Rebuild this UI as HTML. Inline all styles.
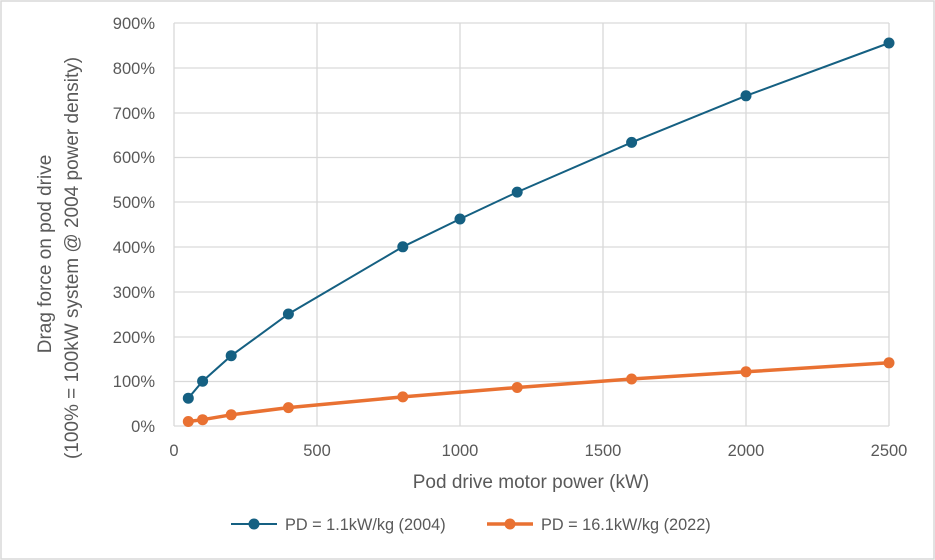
<!DOCTYPE html>
<html><head><meta charset="utf-8"><style>
body{margin:0;background:#fff}
svg{display:block;font-family:"Liberation Sans",sans-serif;fill:#595959}
</style></head><body>
<svg width="935" height="560" viewBox="0 0 935 560">
<rect x="1" y="1" width="933" height="558" fill="#fff" stroke="#d9d9d9" stroke-width="1.5"/>
<g stroke="#d9d9d9" stroke-width="1.3">
<line x1="174" y1="23" x2="889" y2="23"/><line x1="174" y1="68" x2="889" y2="68"/><line x1="174" y1="113" x2="889" y2="113"/><line x1="174" y1="157.5" x2="889" y2="157.5"/><line x1="174" y1="202" x2="889" y2="202"/><line x1="174" y1="247" x2="889" y2="247"/><line x1="174" y1="292" x2="889" y2="292"/><line x1="174" y1="337" x2="889" y2="337"/><line x1="174" y1="381.5" x2="889" y2="381.5"/><line x1="174" y1="426" x2="889" y2="426"/>
<line x1="174" y1="23" x2="174" y2="426"/><line x1="317" y1="23" x2="317" y2="426"/><line x1="460" y1="23" x2="460" y2="426"/><line x1="603" y1="23" x2="603" y2="426"/><line x1="746" y1="23" x2="746" y2="426"/><line x1="889" y1="23" x2="889" y2="426"/>
</g>
<g font-size="16.5" text-anchor="end">
<text x="155" y="29">900%</text><text x="155" y="74">800%</text><text x="155" y="119">700%</text><text x="155" y="163">600%</text><text x="155" y="208">500%</text><text x="155" y="253">400%</text><text x="155" y="298">300%</text><text x="155" y="343">200%</text><text x="155" y="387">100%</text><text x="155" y="432">0%</text>
</g>
<g font-size="16.5" text-anchor="middle">
<text x="174" y="456">0</text><text x="317" y="456">500</text><text x="460" y="456">1000</text><text x="603" y="456">1500</text><text x="746" y="456">2000</text><text x="889" y="456">2500</text>
<text x="531" y="488" font-size="19">Pod drive motor power (kW)</text>
<text transform="translate(51,254) rotate(-90)" font-size="19">Drag force on pod drive</text>
<text transform="translate(78,258) rotate(-90)" font-size="19">(100% = 100kW system @ 2004 power density)</text>
</g>
<polyline fill="none" stroke="#156082" stroke-width="2" points="188.3,398.2 202.6,381.2 231.2,355.7 288.4,314 402.8,246.8 460,219 517.2,192.1 631.6,142.4 746,95.8 889,43"/>
<g fill="#156082"><circle cx="188.3" cy="398.2" r="5.5"/><circle cx="202.6" cy="381.2" r="5.5"/><circle cx="231.2" cy="355.7" r="5.5"/><circle cx="288.4" cy="314" r="5.5"/><circle cx="402.8" cy="246.8" r="5.5"/><circle cx="460" cy="219" r="5.5"/><circle cx="517.2" cy="192.1" r="5.5"/><circle cx="631.6" cy="142.4" r="5.5"/><circle cx="746" cy="95.8" r="5.5"/><circle cx="889" cy="43" r="5.5"/></g>
<polyline fill="none" stroke="#e97132" stroke-width="3.5" points="188.3,421.5 202.6,419.7 231.2,414.8 288.4,407.6 402.8,396.9 517.2,387.5 631.6,379 746,371.8 889,362.8"/>
<g fill="#e97132"><circle cx="188.3" cy="421.5" r="5.5"/><circle cx="202.6" cy="419.7" r="5.5"/><circle cx="231.2" cy="414.8" r="5.5"/><circle cx="288.4" cy="407.6" r="5.5"/><circle cx="402.8" cy="396.9" r="5.5"/><circle cx="517.2" cy="387.5" r="5.5"/><circle cx="631.6" cy="379" r="5.5"/><circle cx="746" cy="371.8" r="5.5"/><circle cx="889" cy="362.8" r="5.5"/></g>
<line x1="231" y1="524" x2="277" y2="524" stroke="#156082" stroke-width="2"/><circle cx="254" cy="524" r="5.5" fill="#156082"/>
<text x="285" y="530" font-size="16.3">PD = 1.1kW/kg (2004)</text>
<line x1="487" y1="524" x2="533" y2="524" stroke="#e97132" stroke-width="3.5"/><circle cx="510" cy="524" r="5.5" fill="#e97132"/>
<text x="541" y="530" font-size="16.3">PD = 16.1kW/kg (2022)</text>
</svg>
</body></html>
